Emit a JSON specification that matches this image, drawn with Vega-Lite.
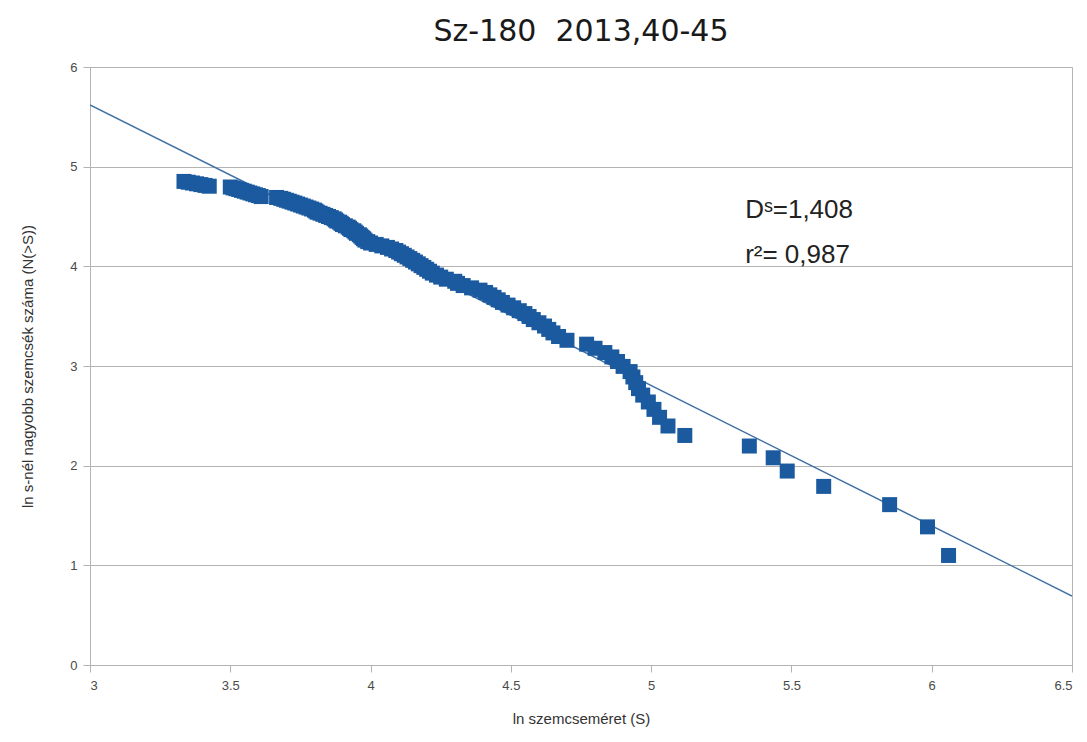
{
  "$schema": "https://vega.github.io/schema/vega-lite/v6.json",
  "width": 982,
  "height": 598,
  "autosize": {"type": "none"},
  "padding": {"left": 90, "top": 67, "right": 15, "bottom": 77},
  "background": "white",
  "title": {"text": "Sz-180\u00a0 2013,40-45", "font": "DejaVu Sans", "fontSize": 30, "fontWeight": "normal", "color": "#1a1a1a", "anchor": "middle", "offset": 14},
  "config": {
    "view": {"stroke": "#b3b3b3", "strokeWidth": 1},
    "axis": {"labelFont": "Liberation Sans", "titleFont": "Liberation Sans", "labelFontSize": 13, "labelColor": "#4a4a4a", "titleColor": "#333333", "titleFontSize": 15, "titleFontWeight": "normal", "domainColor": "#b3b3b3", "tickColor": "#b3b3b3", "gridColor": "#b3b3b3", "tickSize": 7}
  },
  "datasets": {
    "pts": [
      {"x": 3.335, "y": 4.852}, {"x": 3.35, "y": 4.844}, {"x": 3.365, "y": 4.836}, {"x": 3.38, "y": 4.828}, {"x": 3.395, "y": 4.820}, {"x": 3.41, "y": 4.812}, {"x": 3.425, "y": 4.804},
      {"x": 3.50, "y": 4.796}, {"x": 3.51, "y": 4.787}, {"x": 3.52, "y": 4.779}, {"x": 3.53, "y": 4.771}, {"x": 3.54, "y": 4.762}, {"x": 3.55, "y": 4.754}, {"x": 3.56, "y": 4.745}, {"x": 3.57, "y": 4.736}, {"x": 3.58, "y": 4.727}, {"x": 3.59, "y": 4.718}, {"x": 3.60, "y": 4.710}, {"x": 3.61, "y": 4.700},
      {"x": 3.665, "y": 4.691}, {"x": 3.68, "y": 4.682}, {"x": 3.69, "y": 4.673}, {"x": 3.70, "y": 4.663}, {"x": 3.71, "y": 4.654}, {"x": 3.72, "y": 4.644}, {"x": 3.73, "y": 4.635}, {"x": 3.74, "y": 4.625}, {"x": 3.75, "y": 4.615}, {"x": 3.76, "y": 4.605},
      {"x": 3.77, "y": 4.595}, {"x": 3.78, "y": 4.585}, {"x": 3.79, "y": 4.575}, {"x": 3.80, "y": 4.564}, {"x": 3.805, "y": 4.554}, {"x": 3.81, "y": 4.543}, {"x": 3.82, "y": 4.533}, {"x": 3.83, "y": 4.522}, {"x": 3.84, "y": 4.511}, {"x": 3.85, "y": 4.500},
      {"x": 3.86, "y": 4.489}, {"x": 3.87, "y": 4.477}, {"x": 3.875, "y": 4.466}, {"x": 3.88, "y": 4.454}, {"x": 3.89, "y": 4.443}, {"x": 3.895, "y": 4.431}, {"x": 3.90, "y": 4.419}, {"x": 3.91, "y": 4.407}, {"x": 3.92, "y": 4.394}, {"x": 3.925, "y": 4.382},
      {"x": 3.93, "y": 4.369}, {"x": 3.94, "y": 4.357}, {"x": 3.945, "y": 4.344}, {"x": 3.95, "y": 4.331}, {"x": 3.96, "y": 4.317}, {"x": 3.965, "y": 4.304}, {"x": 3.97, "y": 4.290}, {"x": 3.975, "y": 4.277}, {"x": 3.98, "y": 4.263}, {"x": 3.99, "y": 4.248},
      {"x": 4.00, "y": 4.234}, {"x": 4.02, "y": 4.220}, {"x": 4.04, "y": 4.205}, {"x": 4.06, "y": 4.190}, {"x": 4.075, "y": 4.174}, {"x": 4.09, "y": 4.159}, {"x": 4.10, "y": 4.143}, {"x": 4.11, "y": 4.127}, {"x": 4.12, "y": 4.111}, {"x": 4.13, "y": 4.094},
      {"x": 4.14, "y": 4.078}, {"x": 4.15, "y": 4.060}, {"x": 4.16, "y": 4.043}, {"x": 4.17, "y": 4.025}, {"x": 4.18, "y": 4.007}, {"x": 4.19, "y": 3.989}, {"x": 4.20, "y": 3.970}, {"x": 4.21, "y": 3.951}, {"x": 4.22, "y": 3.932}, {"x": 4.235, "y": 3.912},
      {"x": 4.25, "y": 3.892}, {"x": 4.27, "y": 3.871}, {"x": 4.30, "y": 3.850}, {"x": 4.31, "y": 3.829}, {"x": 4.33, "y": 3.807}, {"x": 4.36, "y": 3.784}, {"x": 4.39, "y": 3.761}, {"x": 4.41, "y": 3.738}, {"x": 4.425, "y": 3.714}, {"x": 4.44, "y": 3.689},
      {"x": 4.455, "y": 3.664}, {"x": 4.47, "y": 3.638}, {"x": 4.49, "y": 3.611}, {"x": 4.51, "y": 3.584}, {"x": 4.53, "y": 3.555}, {"x": 4.55, "y": 3.526}, {"x": 4.565, "y": 3.497}, {"x": 4.58, "y": 3.466}, {"x": 4.60, "y": 3.434}, {"x": 4.62, "y": 3.401},
      {"x": 4.635, "y": 3.367}, {"x": 4.65, "y": 3.332}, {"x": 4.67, "y": 3.296}, {"x": 4.70, "y": 3.258}, {"x": 4.77, "y": 3.219}, {"x": 4.80, "y": 3.178}, {"x": 4.835, "y": 3.135}, {"x": 4.86, "y": 3.091}, {"x": 4.88, "y": 3.045}, {"x": 4.90, "y": 2.996},
      {"x": 4.925, "y": 2.944}, {"x": 4.935, "y": 2.890}, {"x": 4.945, "y": 2.833}, {"x": 4.955, "y": 2.773}, {"x": 4.97, "y": 2.708}, {"x": 4.99, "y": 2.639}, {"x": 5.01, "y": 2.565}, {"x": 5.03, "y": 2.485}, {"x": 5.06, "y": 2.398}, {"x": 5.12, "y": 2.303},
      {"x": 5.35, "y": 2.197}, {"x": 5.435, "y": 2.079}, {"x": 5.485, "y": 1.946}, {"x": 5.615, "y": 1.792}, {"x": 5.85, "y": 1.609}, {"x": 5.985, "y": 1.386}, {"x": 6.06, "y": 1.099}
    ],
    "fit": [{"x": 3, "y": 5.62}, {"x": 6.5, "y": 0.692}],
    "notes": [{"x": 5.335, "y": 4.483, "t": "Dˢ=1,408"}, {"x": 5.335, "y": 4.032, "t": "r²= 0,987"}]
  },
  "layer": [
    {
      "data": {"name": "fit"},
      "mark": {"type": "line", "color": "#3d6ea5", "strokeWidth": 1.5, "clip": true},
      "encoding": {
        "x": {"field": "x", "type": "quantitative", "scale": {"domain": [3, 6.5], "nice": false, "zero": false},
          "axis": {"values": [3, 3.5, 4, 4.5, 5, 5.5, 6, 6.5], "format": "~g", "grid": false, "title": "ln  szemcseméret (S)", "labelPadding": 7, "titlePadding": 19}},
        "y": {"field": "y", "type": "quantitative", "scale": {"domain": [0, 6], "nice": false, "zero": false},
          "axis": {"values": [0, 1, 2, 3, 4, 5, 6], "format": "d", "grid": true, "title": "ln s-nél nagyobb szemcsék száma (N(>S))", "labelPadding": 6, "titlePadding": 34}}
      }
    },
    {
      "data": {"name": "pts"},
      "mark": {"type": "square", "size": 225, "filled": true, "color": "#1b5a9f", "opacity": 1},
      "encoding": {
        "x": {"field": "x", "type": "quantitative"},
        "y": {"field": "y", "type": "quantitative"}
      }
    },
    {
      "data": {"name": "notes"},
      "mark": {"type": "text", "align": "left", "baseline": "alphabetic", "font": "Liberation Sans", "fontSize": 26, "color": "#222222"},
      "encoding": {
        "x": {"field": "x", "type": "quantitative"},
        "y": {"field": "y", "type": "quantitative"},
        "text": {"field": "t"}
      }
    }
  ]
}
